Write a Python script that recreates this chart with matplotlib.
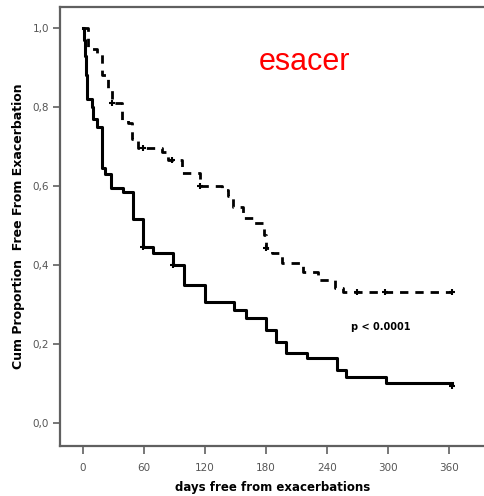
import matplotlib.pyplot as plt

# Kaplan-Meier step data (days, proportion after step)
solid_days = [0, 1, 2, 3, 4, 9, 10, 14, 19, 22, 28, 39, 49, 59, 69, 89, 99,
              120, 149, 160, 180, 190, 200, 220, 250, 259, 298, 363]
solid_surv = [1.0, 0.97, 0.93, 0.88, 0.82, 0.80, 0.77, 0.75, 0.645, 0.63, 0.595,
              0.585, 0.516, 0.446, 0.43, 0.40, 0.35, 0.306, 0.286, 0.266, 0.235,
              0.205, 0.177, 0.165, 0.134, 0.116, 0.101, 0.101]
solid_cens_days = [59, 89, 363]
solid_cens_surv = [0.446, 0.40, 0.094]

dash_days = [0, 5, 14, 19, 25, 29, 38, 44, 48, 54, 78, 84, 97, 115, 137, 143,
             148, 157, 167, 178, 180, 186, 196, 216, 231, 248, 256, 363]
dash_surv = [1.0, 0.947, 0.937, 0.88, 0.843, 0.81, 0.767, 0.76, 0.72, 0.696,
             0.686, 0.666, 0.633, 0.60, 0.59, 0.575, 0.547, 0.519, 0.506, 0.476,
             0.443, 0.43, 0.405, 0.382, 0.362, 0.342, 0.332, 0.332]
dash_cens_days = [29, 59, 88, 115, 180, 270, 297, 363]
dash_cens_surv = [0.81, 0.696, 0.666, 0.60, 0.443, 0.332, 0.332, 0.332]

x_ticks = [0, 60, 120, 180, 240, 300, 360]
y_ticks = [0.0, 0.2, 0.4, 0.6, 0.8, 1.0]

fig = plt.figure(figsize=(4.85, 4.96), dpi=100)
ax = fig.add_axes([0.1237, 0.1008, 0.8763, 0.8851])

ax.step(solid_days, solid_surv, where="post", color="black", linewidth=2.2)
ax.plot(solid_cens_days, solid_cens_surv, "+", color="black", markersize=5,
        markeredgewidth=1.5)
ax.step(dash_days, dash_surv, where="post", color="black", linewidth=2.0,
        linestyle=(0, (3, 2.5)))
ax.plot(dash_cens_days, dash_cens_surv, "+", color="black", markersize=5,
        markeredgewidth=1.5)

ax.set_xlim(-22.6, 395.4)
ax.set_ylim(-0.058, 1.053)
ax.set_xticks(x_ticks)
ax.set_xticklabels([str(v) for v in x_ticks])
ax.set_yticks(y_ticks)
ax.set_yticklabels([f"{v:.1f}".replace(".", ",") for v in y_ticks])

for side in ["left", "bottom", "top"]:
    ax.spines[side].set_color("#606060")
    ax.spines[side].set_linewidth(1.6)
ax.spines["right"].set_visible(False)
ax.tick_params(axis="both", colors="#606060", labelcolor="#555555",
               labelsize=7.5, width=1.2)
ax.tick_params(axis="x", length=6, pad=6)
ax.tick_params(axis="y", length=5, pad=3)

ax.set_xlabel("days free from exacerbations", fontsize=8.5, fontweight="bold",
              labelpad=6)
ax.set_ylabel("Cum Proportion  Free From Exacerbation", fontsize=9,
              fontweight="bold", labelpad=5)

ax.text(218, 0.914, "esacer", color="red", fontsize=22, ha="center",
        va="center", family="Liberation Sans")
ax.text(293, 0.243, "p < 0.0001", fontsize=7, fontweight="bold",
        ha="center", va="center")

fig.savefig("out.png", dpi=100)
